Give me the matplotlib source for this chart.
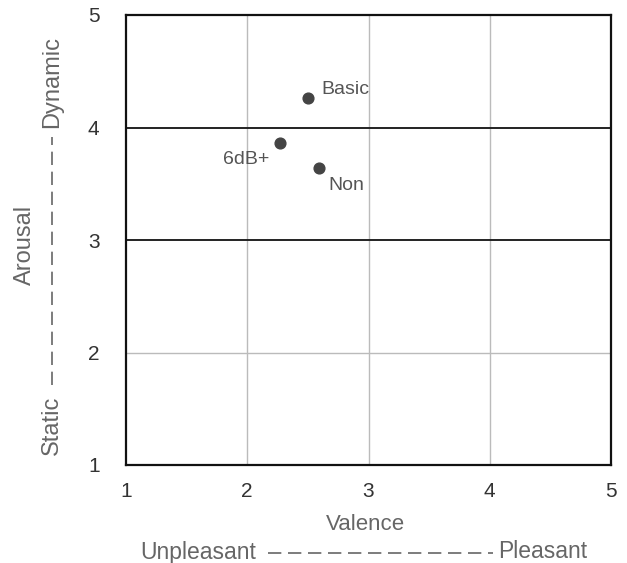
import matplotlib.pyplot as plt
from matplotlib.lines import Line2D

plt.rcParams['font.family'] = ['Liberation Sans', 'DejaVu Sans']

labels = ['Basic', '6dB+', 'Non']
valence = [2.50, 2.27, 2.59]
arousal = [4.26, 3.86, 3.64]
label_offsets = [(10, 3), (-41, -15), (7, -16)]
ticks = [1, 2, 3, 4, 5]

fig = plt.figure(figsize=(6.27, 5.63), dpi=100)
ax = fig.add_axes([126/627, 1 - 465/563, 485/627, 450/563])

ax.scatter(valence, arousal, s=60, color='#444444', zorder=3)
for lab, x, y, off in zip(labels, valence, arousal, label_offsets):
    ax.annotate(lab, (x, y), xytext=off, textcoords='offset points',
                fontsize=14, color='#555555')

ax.set_xlim(1, 5)
ax.set_ylim(1, 5)
ax.set_xticks(ticks)
ax.set_yticks(ticks)
ax.tick_params(length=0, labelsize=15, colors='#333333')
ax.tick_params(axis='x', pad=12)
ax.tick_params(axis='y', pad=19)

for v in [2, 3, 4]:
    ax.axvline(v, color='#bbbbbb', lw=1, zorder=1)
ax.axhline(2, color='#bbbbbb', lw=1, zorder=1)
ax.axhline(3, color='#222222', lw=1.4, zorder=1)
ax.axhline(4, color='#222222', lw=1.4, zorder=1)
for s in ax.spines.values():
    s.set_linewidth(1.6)
    s.set_color('#111111')

txt = '#666666'
dash = (0, (8, 4))
fig.text(365/627, 1 - 524/563, 'Valence', ha='center', va='center', fontsize=16, color=txt)
fig.text(256/627, 1 - 552/563, 'Unpleasant', ha='right', va='center', fontsize=16.5, color=txt)
fig.text(498/627, 1 - 552/563, 'Pleasant', ha='left', va='center', fontsize=16.5, color=txt)
fig.add_artist(Line2D([268/627, 493/627], [1 - 553/563] * 2, color=txt, lw=1.2,
                      linestyle=dash))

fig.text(25/627, 1 - 245/563, 'Arousal', ha='center', va='center', rotation=90,
         fontsize=17, color=txt)
fig.text(52/627, 1 - 455/563, 'Static', ha='center', va='bottom', rotation=90,
         fontsize=17, color=txt)
fig.text(52/627, 1 - 128/563, 'Dynamic', ha='center', va='bottom', rotation=90,
         fontsize=17, color=txt)
fig.add_artist(Line2D([52/627] * 2, [1 - 385/563, 1 - 137/563], color=txt, lw=1.2,
                      linestyle=dash))

fig.savefig('out.png', dpi=100)
